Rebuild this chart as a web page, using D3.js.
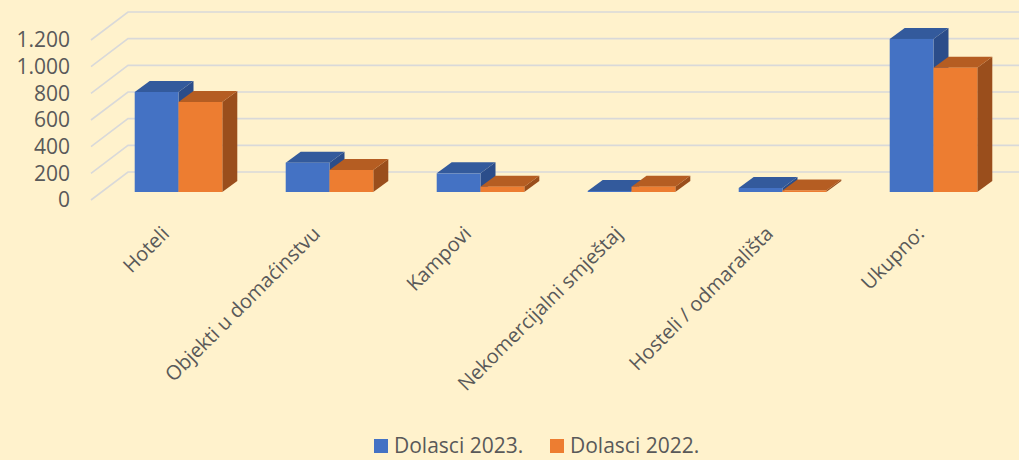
<!DOCTYPE html>
<html>
<head>
<meta charset="utf-8">
<script src="https://cdn.jsdelivr.net/npm/d3@7"></script>
<style>
  body { margin: 0; background: #fff2cc; }
  svg { display: block; }
</style>
</head>
<body>
<svg id="chart" width="1019" height="460"></svg>
<script>
// data
const categories = ["Hoteli", "Objekti u domaćinstvu", "Kampovi", "Nekomercijalni smještaj", "Hosteli / odmarališta", "Ukupno:"];
const seriesNames = ["Dolasci 2023.", "Dolasci 2022."];
const dolasci2023 = [750, 220, 140, 8, 30, 1148];
const dolasci2022 = [675, 165, 40, 40, 12, 932];
const yTicks = [0, 200, 400, 600, 800, 1000, 1200];
const yTickLabels = ["0", "200", "400", "600", "800", "1.000", "1.200"];

const colors = {
  front: ["#4472c4", "#ed7d31"],
  top: ["#335a9c", "#b55d22"],
  side: ["#2b4d8a", "#9a4e1c"]
};

const svg = d3.select("#chart");
const W = 1019, H = 460;

svg.append("rect").attr("width", W).attr("height", H).attr("fill", "#fff2cc");

// bar front plane scales
const yScale = d3.scaleLinear().domain([0, 1200]).range([192, 32]);
const x0 = d3.scaleBand().domain(categories).range([103, 1009]).paddingInner(0.42).paddingOuter(0.21);
const x1 = d3.scaleBand().domain(seriesNames).range([0, x0.bandwidth()]);

// depth of the bars and of the walls
const bdx = 15, bdy = -11;
const frontX = 91, backX = 128, frontDy = 8, backDy = -20;

const grid = svg.append("g").attr("stroke", "#d9d9d9").attr("stroke-width", 1.6).attr("fill", "none");
yTicks.forEach(v => {
  const y = yScale(v);
  grid.append("path")
    .attr("d", `M${frontX},${y + frontDy}L${backX},${y + backDy}L${W},${y + backDy}`);
});

// tick labels
svg.append("g").selectAll("text")
  .data(yTicks)
  .join("text")
  .attr("x", 70)
  .attr("y", d => yScale(d) + frontDy)
  .attr("dy", "0.35em")
  .attr("text-anchor", "end")
  .attr("font-family", "Open Sans, sans-serif")
  .attr("font-size", 21)
  .attr("fill", "#595959")
  .text((d, i) => yTickLabels[i]);

// bars
const values = [dolasci2023, dolasci2022];
const bars = svg.append("g");
categories.forEach((c, i) => {
  seriesNames.forEach((s, j) => {
    const xl = x0(c) + x1(s);
    const xr = xl + x1.bandwidth();
    const yt = yScale(values[j][i]);
    const yb = yScale(0);
    const g = bars.append("g");
    // side face
    g.append("path")
      .attr("d", `M${xr},${yt}L${xr + bdx},${yt + bdy}L${xr + bdx},${yb + bdy}L${xr},${yb}Z`)
      .attr("fill", colors.side[j]);
    // top face
    g.append("path")
      .attr("d", `M${xl},${yt}L${xl + bdx},${yt + bdy}L${xr + bdx},${yt + bdy}L${xr},${yt}Z`)
      .attr("fill", colors.top[j]);
    // front face
    g.append("rect")
      .attr("x", xl).attr("y", yt)
      .attr("width", x1.bandwidth()).attr("height", yb - yt)
      .attr("fill", colors.front[j]);
  });
});

// category labels
svg.append("g").selectAll("text")
  .data(categories)
  .join("text")
  .attr("transform", d => `translate(${x0(d) + x0.bandwidth() / 2 - 13},${230}) rotate(-45)`)
  .attr("text-anchor", "end")
  .attr("dy", "0.35em")
  .attr("font-family", "Open Sans, sans-serif")
  .attr("font-size", 20)
  .attr("fill", "#595959")
  .text(d => d);

// legend
const legend = svg.append("g");
const legendX = [374, 550];
seriesNames.forEach((s, j) => {
  legend.append("rect")
    .attr("x", legendX[j]).attr("y", 439)
    .attr("width", 14).attr("height", 14)
    .attr("fill", colors.front[j]);
  legend.append("text")
    .attr("x", legendX[j] + 20).attr("y", 446)
    .attr("dy", "0.35em")
    .attr("font-family", "Open Sans, sans-serif")
    .attr("font-size", 21)
    .attr("fill", "#595959")
    .text(s);
});
</script>
</body>
</html>
